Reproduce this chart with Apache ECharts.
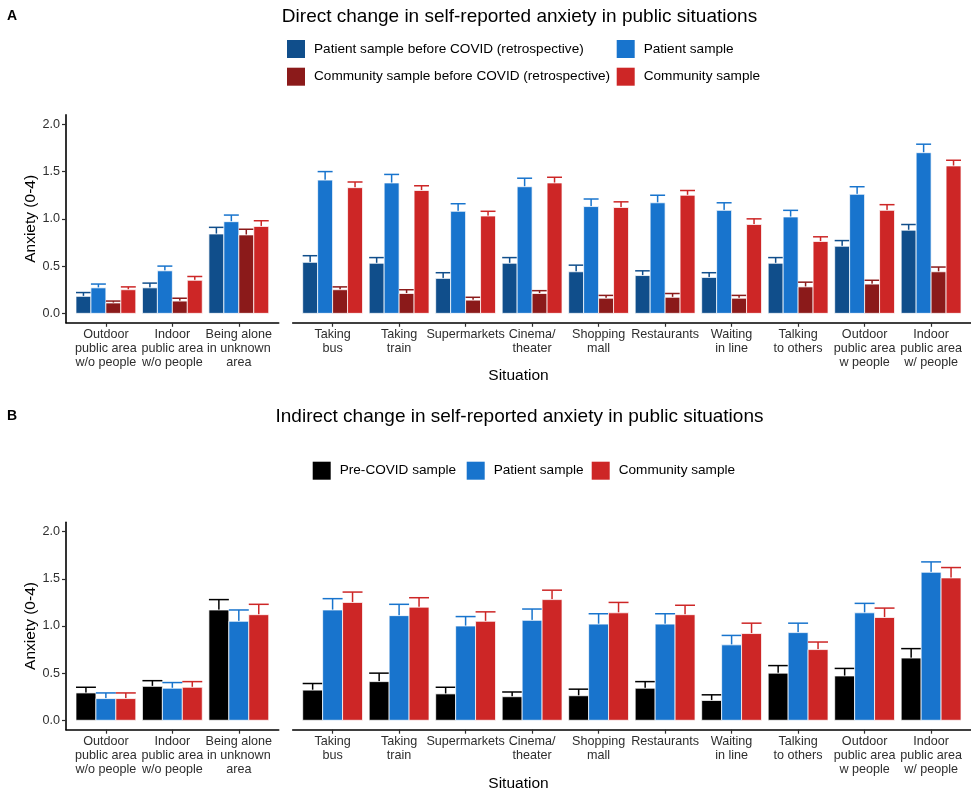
<!DOCTYPE html>
<html>
<head>
<meta charset="utf-8">
<title>Self-reported anxiety in public situations</title>
<script src="https://cdn.jsdelivr.net/npm/echarts@6/dist/echarts.min.js"></script>
<style>
  html, body { margin: 0; padding: 0; background: #fff; }
  #chart { width: 971px; height: 792px; }
</style>
</head>
<body>
<div id="chart"></div>
<script>
// Situations: first three sit in the left facet, the rest in the right facet
const situationsLeft = [
  'Outdoor\npublic area\nw/o people',
  'Indoor\npublic area\nw/o people',
  'Being alone\nin unknown\narea'
];
const situationsRight = [
  'Taking\nbus', 'Taking\ntrain', 'Supermarkets', 'Cinema/\ntheater', 'Shopping\nmall',
  'Restaurants', 'Waiting\nin line', 'Talking\nto others',
  'Outdoor\npublic area\nw people', 'Indoor\npublic area\nw/ people'
];
const yTicks = [0, 0.5, 1, 1.5, 2];

// Panel A: direct change (means and upper error limits, left facet first)
const patientBeforeMean  = [0.18, 0.27, 0.84, 0.54, 0.53, 0.37, 0.53, 0.44, 0.40, 0.38, 0.53, 0.71, 0.88];
const patientBeforeUpper = [0.22, 0.32, 0.91, 0.61, 0.59, 0.43, 0.59, 0.51, 0.45, 0.43, 0.59, 0.77, 0.94];
const patientMeanA       = [0.27, 0.45, 0.97, 1.41, 1.38, 1.08, 1.34, 1.13, 1.17, 1.09, 1.02, 1.26, 1.70];
const patientUpperA      = [0.31, 0.50, 1.04, 1.50, 1.47, 1.16, 1.43, 1.21, 1.25, 1.17, 1.09, 1.34, 1.79];
const communityBeforeMean  = [0.11, 0.13, 0.83, 0.25, 0.21, 0.14, 0.21, 0.16, 0.17, 0.16, 0.28, 0.31, 0.44];
const communityBeforeUpper = [0.13, 0.16, 0.89, 0.28, 0.25, 0.17, 0.24, 0.19, 0.21, 0.19, 0.33, 0.35, 0.49];
const communityMeanA     = [0.25, 0.35, 0.92, 1.33, 1.30, 1.03, 1.38, 1.12, 1.25, 0.94, 0.76, 1.09, 1.56];
const communityUpperA    = [0.28, 0.39, 0.98, 1.39, 1.35, 1.08, 1.44, 1.18, 1.30, 1.00, 0.81, 1.15, 1.62];

// Panel B: indirect change
const preCovidMean   = [0.29, 0.36, 1.17, 0.32, 0.41, 0.28, 0.25, 0.26, 0.34, 0.21, 0.50, 0.47, 0.66];
const preCovidUpper  = [0.35, 0.42, 1.28, 0.39, 0.50, 0.35, 0.30, 0.33, 0.41, 0.27, 0.58, 0.55, 0.76];
const patientMeanB   = [0.23, 0.34, 1.05, 1.17, 1.11, 1.00, 1.06, 1.02, 1.02, 0.80, 0.93, 1.14, 1.57];
const patientUpperB  = [0.29, 0.40, 1.17, 1.29, 1.23, 1.10, 1.18, 1.13, 1.13, 0.90, 1.03, 1.24, 1.68];
const communityMeanB = [0.23, 0.35, 1.12, 1.25, 1.20, 1.05, 1.28, 1.14, 1.12, 0.92, 0.75, 1.09, 1.51];
const communityUpperB= [0.29, 0.41, 1.23, 1.36, 1.30, 1.15, 1.38, 1.25, 1.22, 1.03, 0.83, 1.19, 1.62];

const FONT = "'Liberation Sans', Arial, Helvetica, sans-serif";
const TEXT = '#2e2e2e';
const C = {
  darkBlue: '#104E8B', blue: '#1874CD', darkRed: '#8B1A1A', red: '#CD2626', black: '#000000'
};

const seriesA = [
  { name: 'Patient sample before COVID (retrospective)', color: C.darkBlue, mean: patientBeforeMean, upper: patientBeforeUpper },
  { name: 'Patient sample', color: C.blue, mean: patientMeanA, upper: patientUpperA },
  { name: 'Community sample before COVID (retrospective)', color: C.darkRed, mean: communityBeforeMean, upper: communityBeforeUpper },
  { name: 'Community sample', color: C.red, mean: communityMeanA, upper: communityUpperA }
];
const seriesB = [
  { name: 'Pre-COVID sample', color: C.black, mean: preCovidMean, upper: preCovidUpper },
  { name: 'Patient sample', color: C.blue, mean: patientMeanB, upper: patientUpperB },
  { name: 'Community sample', color: C.red, mean: communityMeanB, upper: communityUpperB }
];

// Panel geometry
const leftX = 66, leftW = 212.7, rightX = 292.7, rightW = 678.6;
const panels = [
  { top: 114.9, height: 207.9 },
  { top: 522.3, height: 207.4 }
];

const grids = [], xAxes = [], yAxes = [], series = [];

function xAxisFor(gridIndex, cats) {
  const idx = cats.map((_, i) => i);
  return {
    type: 'value', gridIndex: gridIndex,
    min: -0.6, max: cats.length - 0.4,
    axisLine: { show: true, onZero: false, lineStyle: { color: '#000', width: 1.6 } },
    axisTick: { show: true, customValues: idx, length: 4, lineStyle: { color: TEXT, width: 1.2 } },
    axisLabel: {
      customValues: idx, margin: 5, color: TEXT, fontSize: 12.6, lineHeight: 14,
      fontFamily: FONT, formatter: v => cats[Math.round(v)]
    },
    splitLine: { show: false }
  };
}
function yAxisFor(gridIndex, visible) {
  return {
    type: 'value', gridIndex: gridIndex, min: -0.1, max: 2.1, show: visible,
    name: visible ? 'Anxiety (0-4)' : '', nameLocation: 'middle', nameGap: 23,
    nameTextStyle: { fontSize: 15.5, color: '#000', fontFamily: FONT },
    axisLine: { show: true, onZero: false, lineStyle: { color: '#000', width: 1.6 } },
    axisTick: { show: true, customValues: yTicks, length: 4, lineStyle: { color: TEXT, width: 1.2 } },
    axisLabel: { customValues: yTicks, margin: 6, color: TEXT, fontSize: 12.6, fontFamily: FONT, formatter: v => v.toFixed(1) },
    splitLine: { show: false }
  };
}

// Bar + upper error bar, dodged within each situation
function barRenderer(k, n, color) {
  const dodge = 0.9, w = dodge / n, off = -dodge / 2 + (k + 0.5) * w;
  return function (params, api) {
    const x = api.value(0) + off, y = api.value(1), up = api.value(2);
    const tl = api.coord([x - w / 2, y]);
    const br = api.coord([x + w / 2, 0]);
    const capL = api.coord([x - w / 2, up]);
    const capR = api.coord([x + w / 2, up]);
    const mid = (tl[0] + br[0]) / 2;
    return {
      type: 'group',
      children: [
        { type: 'line', shape: { x1: mid, y1: tl[1], x2: mid, y2: capL[1] }, style: { stroke: color, lineWidth: 1.5 } },
        { type: 'line', shape: { x1: capL[0], y1: capL[1], x2: capR[0], y2: capR[1] }, style: { stroke: color, lineWidth: 1.5 } },
        { type: 'rect', shape: { x: tl[0], y: tl[1], width: br[0] - tl[0], height: br[1] - tl[1] },
          style: { fill: color, stroke: 'rgba(255,255,255,0.75)', lineWidth: 1 } }
      ]
    };
  };
}

function addPanel(p, defs) {
  const g0 = grids.length;
  grids.push({ left: leftX, top: panels[p].top, width: leftW, height: panels[p].height, containLabel: false });
  grids.push({ left: rightX, top: panels[p].top, width: rightW, height: panels[p].height, containLabel: false });
  xAxes.push(xAxisFor(g0, situationsLeft));
  xAxes.push(xAxisFor(g0 + 1, situationsRight));
  yAxes.push(yAxisFor(g0, true));
  yAxes.push(yAxisFor(g0 + 1, false));
  const nL = situationsLeft.length;
  defs.forEach((d, k) => {
    [0, 1].forEach(side => {
      const means = side === 0 ? d.mean.slice(0, nL) : d.mean.slice(nL);
      const uppers = side === 0 ? d.upper.slice(0, nL) : d.upper.slice(nL);
      series.push({
        type: 'custom', name: d.name,
        xAxisIndex: g0 + side, yAxisIndex: g0 + side,
        itemStyle: { color: d.color },
        renderItem: barRenderer(k, defs.length, d.color),
        encode: { x: 0, y: [1, 2] },
        data: means.map((m, i) => [i, m, uppers[i]])
      });
    });
  });
}
addPanel(0, seriesA);
addPanel(1, seriesB);

function legendAt(name, left, top) {
  return {
    data: [name], left: left, top: top, padding: 0,
    icon: 'rect', itemWidth: 18, itemHeight: 18,
    textStyle: { fontSize: 13.6, color: '#000', fontFamily: FONT, padding: [0, 0, 0, 4] }
  };
}
const legends = [
  legendAt(seriesA[0].name, 287, 40),
  legendAt(seriesA[1].name, 616.7, 40),
  legendAt(seriesA[2].name, 287, 67.7),
  legendAt(seriesA[3].name, 616.7, 67.7),
  legendAt(seriesB[0].name, 312.7, 461.7),
  legendAt(seriesB[1].name, 466.7, 461.7),
  legendAt(seriesB[2].name, 591.7, 461.7)
];

function label(text, x, y, size, weight) {
  return {
    type: 'text', x: x, y: y,
    style: { text: text, fill: '#000', font: (weight || 'normal') + ' ' + size + 'px ' + FONT,
             textAlign: x < 30 ? 'left' : 'center', textVerticalAlign: 'middle',
             align: x < 30 ? 'left' : 'center', verticalAlign: 'middle' }
  };
}

const chart = echarts.init(document.getElementById('chart'), null, { renderer: 'canvas' });
chart.setOption({
  animation: false,
  backgroundColor: '#fff',
  grid: grids,
  xAxis: xAxes,
  yAxis: yAxes,
  legend: legends,
  series: series,
  graphic: [
    label('A', 7, 16.5, 14, 'bold'),
    label('Direct change in self-reported anxiety in public situations', 519.5, 17, 19),
    label('Situation', 518.5, 376, 15.5),
    label('B', 7, 416.5, 14, 'bold'),
    label('Indirect change in self-reported anxiety in public situations', 519.5, 417, 19),
    label('Situation', 518.5, 784, 15.5)
  ]
});
</script>
</body>
</html>
